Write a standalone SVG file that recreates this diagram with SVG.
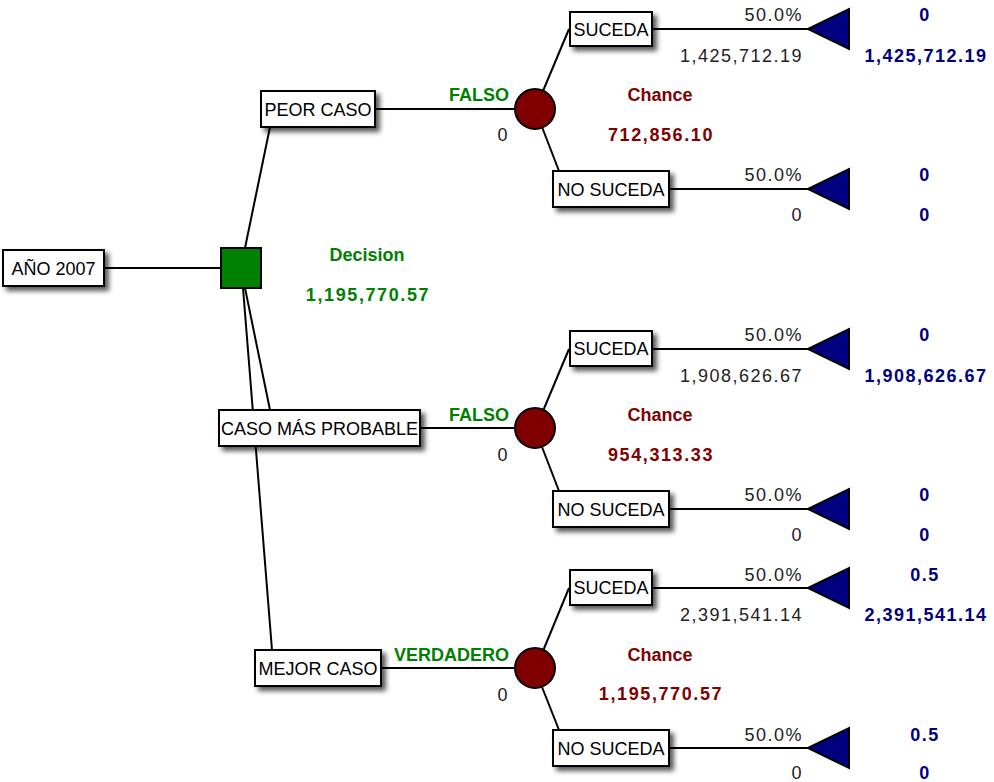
<svg xmlns="http://www.w3.org/2000/svg" width="994" height="782" viewBox="0 0 994 782">
  <style>
    .edge { stroke: #000; stroke-width: 2; fill: none; }
    .box { fill: #fff; stroke: #000; stroke-width: 2; filter: url(#shadow); }
    .lbl { font-family: "Liberation Sans", Arial, sans-serif; font-size: 18px; fill: #000; text-anchor: middle; }
    .num { font-family: "Liberation Sans", Arial, sans-serif; font-size: 18px; fill: #222; text-anchor: end; letter-spacing: 1.5px; }
    .branch { font-family: "Liberation Sans", Arial, sans-serif; font-size: 18px; font-weight: bold; fill: #008000; text-anchor: end; }
    .dec { font-family: "Liberation Sans", Arial, sans-serif; font-size: 18px; font-weight: bold; fill: #008000; text-anchor: middle; }
    .chance { font-family: "Liberation Sans", Arial, sans-serif; font-size: 18px; font-weight: bold; fill: #800000; text-anchor: middle; }
    .term { font-family: "Liberation Sans", Arial, sans-serif; font-size: 18px; font-weight: bold; fill: #000080; text-anchor: middle; letter-spacing: 1.5px; }
    .val { letter-spacing: 1.6px; }
    .circ { fill: #800000; stroke: #000; stroke-width: 2; }
    .tri { fill: #000080; stroke: #000; stroke-width: 2; }
  </style>
  <defs>
    <filter id="shadow" x="-20%" y="-30%" width="150%" height="180%">
      <feDropShadow dx="4" dy="4" stdDeviation="2.5" flood-color="#000" flood-opacity="0.65"/>
    </filter>
  </defs>

  <rect width="994" height="782" fill="#fff"/>

  <!-- connectors -->
  <g id="connectors">
    <line class="edge" x1="104" y1="268" x2="221" y2="268"/>
    <line class="edge" x1="245" y1="248" x2="270" y2="127"/>
    <line class="edge" x1="245" y1="288" x2="270" y2="410"/>
    <line class="edge" x1="243" y1="288" x2="272" y2="650"/>
    <line class="edge" x1="375" y1="109" x2="515" y2="109"/>
    <line class="edge" x1="420" y1="428" x2="515" y2="428"/>
    <line class="edge" x1="381" y1="668" x2="515" y2="668"/>
    <!-- chance 1 -->
    <line class="edge" x1="543" y1="91" x2="569" y2="29"/>
    <line class="edge" x1="542" y1="127" x2="559" y2="171"/>
    <line class="edge" x1="652" y1="29" x2="808" y2="29"/>
    <line class="edge" x1="669" y1="189" x2="808" y2="189"/>
    <!-- chance 2 -->
    <line class="edge" x1="543" y1="411" x2="569" y2="349"/>
    <line class="edge" x1="542" y1="447" x2="559" y2="491"/>
    <line class="edge" x1="652" y1="349" x2="808" y2="349"/>
    <line class="edge" x1="669" y1="509" x2="808" y2="509"/>
    <!-- chance 3 -->
    <line class="edge" x1="543" y1="651" x2="569" y2="588"/>
    <line class="edge" x1="542" y1="687" x2="559" y2="730"/>
    <line class="edge" x1="652" y1="588" x2="808" y2="588"/>
    <line class="edge" x1="669" y1="748" x2="808" y2="748"/>
  </g>

  <!-- root -->
  <g id="root">
    <rect class="box" x="3" y="250" width="101" height="36"/>
    <text class="lbl" x="53.5" y="274.5">AÑO 2007</text>
  </g>

  <!-- decision -->
  <g id="decision">
    <rect x="221" y="248" width="40" height="40" fill="#008000" stroke="#000" stroke-width="2"/>
    <text class="dec" x="367" y="261">Decision</text>
    <text class="dec val" x="368" y="301">1,195,770.57</text>
  </g>

  <!-- alternatives -->
  <g id="peor-caso">
    <rect class="box" x="261" y="91" width="114" height="36"/>
    <text class="lbl" x="318" y="115.5">PEOR CASO</text>
    <text class="branch" x="509" y="101">FALSO</text>
    <text class="num" x="509" y="141">0</text>
  </g>
  <g id="caso-probable">
    <rect class="box" x="219" y="410" width="201" height="36"/>
    <text class="lbl" x="319.5" y="434.5">CASO MÁS PROBABLE</text>
    <text class="branch" x="509" y="421">FALSO</text>
    <text class="num" x="509" y="461">0</text>
  </g>
  <g id="mejor-caso">
    <rect class="box" x="255" y="650" width="126" height="36"/>
    <text class="lbl" x="318" y="674.5">MEJOR CASO</text>
    <text class="branch" x="509" y="661">VERDADERO</text>
    <text class="num" x="509" y="701">0</text>
  </g>

  <!-- chance node 1 -->
  <g id="chance-1">
    <circle class="circ" cx="535" cy="109" r="20"/>
    <text class="chance" x="660" y="101">Chance</text>
    <text class="chance val" x="661" y="141">712,856.10</text>
  </g>
  <g id="c1-suceda">
    <rect class="box" x="570" y="12" width="82" height="34"/>
    <text class="lbl" x="611" y="35.5">SUCEDA</text>
    <text class="num" x="803" y="21">50.0%</text>
    <text class="num" x="803" y="62">1,425,712.19</text>
    <polygon class="tri" points="808,29 849,9 849,49"/>
    <text class="term" x="925" y="21">0</text>
    <text class="term" x="926" y="62">1,425,712.19</text>
  </g>
  <g id="c1-no-suceda">
    <rect class="box" x="553" y="171" width="116" height="36"/>
    <text class="lbl" x="611" y="195.5">NO SUCEDA</text>
    <text class="num" x="803" y="181">50.0%</text>
    <text class="num" x="803" y="221">0</text>
    <polygon class="tri" points="808,189 849,169 849,209"/>
    <text class="term" x="925" y="181">0</text>
    <text class="term" x="925" y="221">0</text>
  </g>

  <!-- chance node 2 -->
  <g id="chance-2">
    <circle class="circ" cx="535" cy="428" r="20"/>
    <text class="chance" x="660" y="421">Chance</text>
    <text class="chance val" x="661" y="461">954,313.33</text>
  </g>
  <g id="c2-suceda">
    <rect class="box" x="570" y="331" width="82" height="35"/>
    <text class="lbl" x="611" y="355">SUCEDA</text>
    <text class="num" x="803" y="341">50.0%</text>
    <text class="num" x="803" y="382">1,908,626.67</text>
    <polygon class="tri" points="808,349 849,329 849,369"/>
    <text class="term" x="925" y="341">0</text>
    <text class="term" x="926" y="382">1,908,626.67</text>
  </g>
  <g id="c2-no-suceda">
    <rect class="box" x="553" y="491" width="116" height="36"/>
    <text class="lbl" x="611" y="515.5">NO SUCEDA</text>
    <text class="num" x="803" y="501">50.0%</text>
    <text class="num" x="803" y="541">0</text>
    <polygon class="tri" points="808,509 849,489 849,529"/>
    <text class="term" x="925" y="501">0</text>
    <text class="term" x="925" y="541">0</text>
  </g>

  <!-- chance node 3 -->
  <g id="chance-3">
    <circle class="circ" cx="535" cy="668" r="20"/>
    <text class="chance" x="660" y="661">Chance</text>
    <text class="chance val" x="661" y="700">1,195,770.57</text>
  </g>
  <g id="c3-suceda">
    <rect class="box" x="570" y="570" width="82" height="35"/>
    <text class="lbl" x="611" y="594">SUCEDA</text>
    <text class="num" x="803" y="581">50.0%</text>
    <text class="num" x="803" y="621">2,391,541.14</text>
    <polygon class="tri" points="808,588 849,568 849,608"/>
    <text class="term" x="925" y="581">0.5</text>
    <text class="term" x="926" y="621">2,391,541.14</text>
  </g>
  <g id="c3-no-suceda">
    <rect class="box" x="553" y="730" width="116" height="36"/>
    <text class="lbl" x="611" y="754.5">NO SUCEDA</text>
    <text class="num" x="803" y="741">50.0%</text>
    <text class="num" x="803" y="779">0</text>
    <polygon class="tri" points="808,748 849,728 849,768"/>
    <text class="term" x="925" y="741">0.5</text>
    <text class="term" x="925" y="779">0</text>
  </g>
</svg>
